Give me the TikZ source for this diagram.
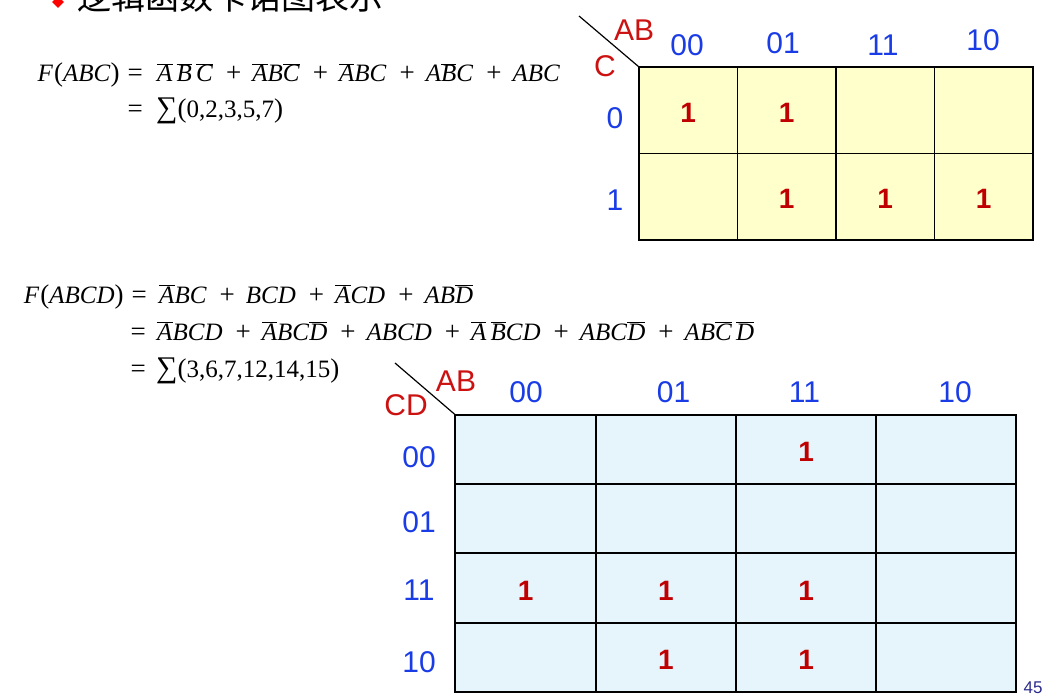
\documentclass[tikz,border=0pt]{standalone}
\usepackage{fontspec}
\setmainfont{Liberation Sans}
\newfontfamily\eqfont{Liberation Serif}
\newfontfamily\cjkfont{Noto Sans CJK SC}
\usetikzlibrary{positioning, shapes.geometric}
\definecolor{kBlue}{HTML}{1A3CE6}
\definecolor{kRed}{HTML}{CC1111}
\definecolor{kOneRed}{HTML}{C00000}
\definecolor{kYellow}{HTML}{FFFFCC}
\definecolor{kSky}{HTML}{E6F4FC}
\definecolor{kNavy}{HTML}{2B2B8C}
\newcommand{\ov}[1]{\ensuremath{\overline{\mbox{\textit{#1}}}}}
\newcommand{\op}[1]{{\fontsize{27}{27}\selectfont #1}}
\newcommand{\pl}{\hspace{13pt}\op{+}\hspace{11pt}}
\newcommand{\fn}[1]{\textit{F}\hspace{1pt}\op{(}\textit{#1}\op{)}\hspace{8pt}\op{=}}
\newcommand{\sm}[1]{{\fontsize{30}{30}\selectfont ∑}\op{(}#1\op{)}}
\tikzstyle{kCellY} = [rectangle, draw=black, line width=1.5pt, fill=kYellow, minimum width=98.5pt, minimum height=86.5pt, inner sep=0pt, outer sep=0pt, text=kOneRed, text height=24.5pt, font=\fontsize{28}{30}\selectfont\bfseries]
\tikzstyle{kCellB} = [rectangle, draw=black, line width=2pt, fill=kSky, minimum width=140.25pt, minimum height=69.25pt, inner sep=0pt, outer sep=0pt, text=kOneRed, text height=24pt, font=\fontsize{28}{30}\selectfont\bfseries]
\tikzstyle{kCode} = [inner sep=0pt, text=kBlue, font=\fontsize{30}{32}\selectfont]
\tikzstyle{kVar} = [inner sep=0pt, text=kRed, font=\fontsize{30}{32}\selectfont]
\tikzstyle{kEq} = [inner sep=0pt, font=\eqfont\fontsize{25}{27}\selectfont]
\tikzstyle{kDiag} = [line width=1.2pt]

\begin{document}
\begin{tikzpicture}[x=1pt, y=-1pt]
    \useasboundingbox (0,0) rectangle (1048,700);

    \node (tBullet) [diamond, fill=red, minimum size=12pt, inner sep=0pt] at (58,2) {};
    \node (tTitle) [anchor=base west, inner sep=0pt, font=\cjkfont\fontsize{34}{36}\selectfont] at (77,10) {逻辑函数卡诺图表示};

    \node (eqTopLhs) [kEq, anchor=base east] at (143,82) {\fn{ABC}};
    \node (eqTopRhs) [kEq, anchor=base west] at (157,82) {\ov{A}\,\ov{B}\,\ov{C}\pl\ov{A}\textit{B}\ov{C}\pl\ov{A}\textit{BC}\pl\textit{A}\ov{B}\textit{C}\pl\textit{ABC}};
    \node (eqTopEq) [kEq, anchor=base east] at (143,118) {\op{=}};
    \node (eqTopSum) [kEq, anchor=base west] at (156,118) {\sm{0,2,3,5,7}};

    \node (eqBotLhs) [kEq, anchor=base east] at (147,303) {\fn{ABCD}};
    \node (eqBotRhs) [kEq, anchor=base west] at (159,303) {\ov{A}\textit{BC}\pl\textit{BCD}\pl\ov{A}\textit{CD}\pl\textit{AB}\ov{D}};
    \node (eqBotEq) [kEq, anchor=base east] at (146,340) {\op{=}};
    \node (eqBotExp) [kEq, anchor=base west] at (157,340) {\ov{A}\textit{BCD}\pl\ov{A}\textit{BC}\ov{D}\pl\textit{ABCD}\pl\ov{A}\,\ov{B}\textit{CD}\pl\textit{ABC}\ov{D}\pl\textit{AB}\ov{C}\,\ov{D}};
    \node (eqBotEqS) [kEq, anchor=base east] at (146,377) {\op{=}};
    \node (eqBotSum) [kEq, anchor=base west] at (156,377) {\sm{3,6,7,12,14,15}};

    \node (tc0ab00) [kCellY] at (688.25,110.25) {1};
    \node (tc0ab01) [kCellY, right=0pt of tc0ab00] {1};
    \node (tc0ab11) [kCellY, right=0pt of tc0ab01] {};
    \node (tc0ab10) [kCellY, right=0pt of tc0ab11] {};
    \node (tc1ab00) [kCellY, below=0pt of tc0ab00] {};
    \node (tc1ab01) [kCellY, right=0pt of tc1ab00] {1};
    \node (tc1ab11) [kCellY, right=0pt of tc1ab01] {1};
    \node (tc1ab10) [kCellY, right=0pt of tc1ab11] {1};

    \node (tAB) [kVar] at (634,30) {AB};
    \node (tC) [kVar] at (605,66) {C};
    \node (tAb00) [kCode] at (687,45) {00};
    \node (tAb01) [kCode] at (783,43) {01};
    \node (tAb11) [kCode] at (883,45) {11};
    \node (tAb10) [kCode] at (983,40) {10};
    \node (tC0) [kCode] at (615,118) {0};
    \node (tC1) [kCode] at (615,200) {1};
    \coordinate (tTip) at (579,16);
    \draw [kDiag] (tTip) -- (tc0ab00.north west);

    \node (bcd00ab00) [kCellB] at (525.6,449.6) {};
    \node (bcd00ab01) [kCellB, right=0pt of bcd00ab00] {};
    \node (bcd00ab11) [kCellB, right=0pt of bcd00ab01] {1};
    \node (bcd00ab10) [kCellB, right=0pt of bcd00ab11] {};
    \node (bcd01ab00) [kCellB, below=0pt of bcd00ab00] {};
    \node (bcd01ab01) [kCellB, right=0pt of bcd01ab00] {};
    \node (bcd01ab11) [kCellB, right=0pt of bcd01ab01] {};
    \node (bcd01ab10) [kCellB, right=0pt of bcd01ab11] {};
    \node (bcd11ab00) [kCellB, below=0pt of bcd01ab00] {1};
    \node (bcd11ab01) [kCellB, right=0pt of bcd11ab00] {1};
    \node (bcd11ab11) [kCellB, right=0pt of bcd11ab01] {1};
    \node (bcd11ab10) [kCellB, right=0pt of bcd11ab11] {};
    \node (bcd10ab00) [kCellB, below=0pt of bcd11ab00] {};
    \node (bcd10ab01) [kCellB, right=0pt of bcd10ab00] {1};
    \node (bcd10ab11) [kCellB, right=0pt of bcd10ab01] {1};
    \node (bcd10ab10) [kCellB, right=0pt of bcd10ab11] {};

    \node (bAB) [kVar] at (456,381) {AB};
    \node (bCD) [kVar] at (406,405) {CD};
    \node (bAb00) [kCode] at (526,392) {00};
    \node (bAb01) [kCode] at (673.5,392) {01};
    \node (bAb11) [kCode] at (804.5,392) {11};
    \node (bAb10) [kCode] at (955,392) {10};
    \node (bCd00) [kCode] at (419,457) {00};
    \node (bCd01) [kCode] at (419,522) {01};
    \node (bCd11) [kCode] at (419,590) {11};
    \node (bCd10) [kCode] at (419,662) {10};
    \coordinate (bTip) at (395,363);
    \draw [kDiag] (bTip) -- (bcd00ab00.north west);

    \node (pageNo) [inner sep=0pt, text=kNavy, font=\fontsize{17}{18}\selectfont] at (1033,688) {45};
\end{tikzpicture}
\end{document}
